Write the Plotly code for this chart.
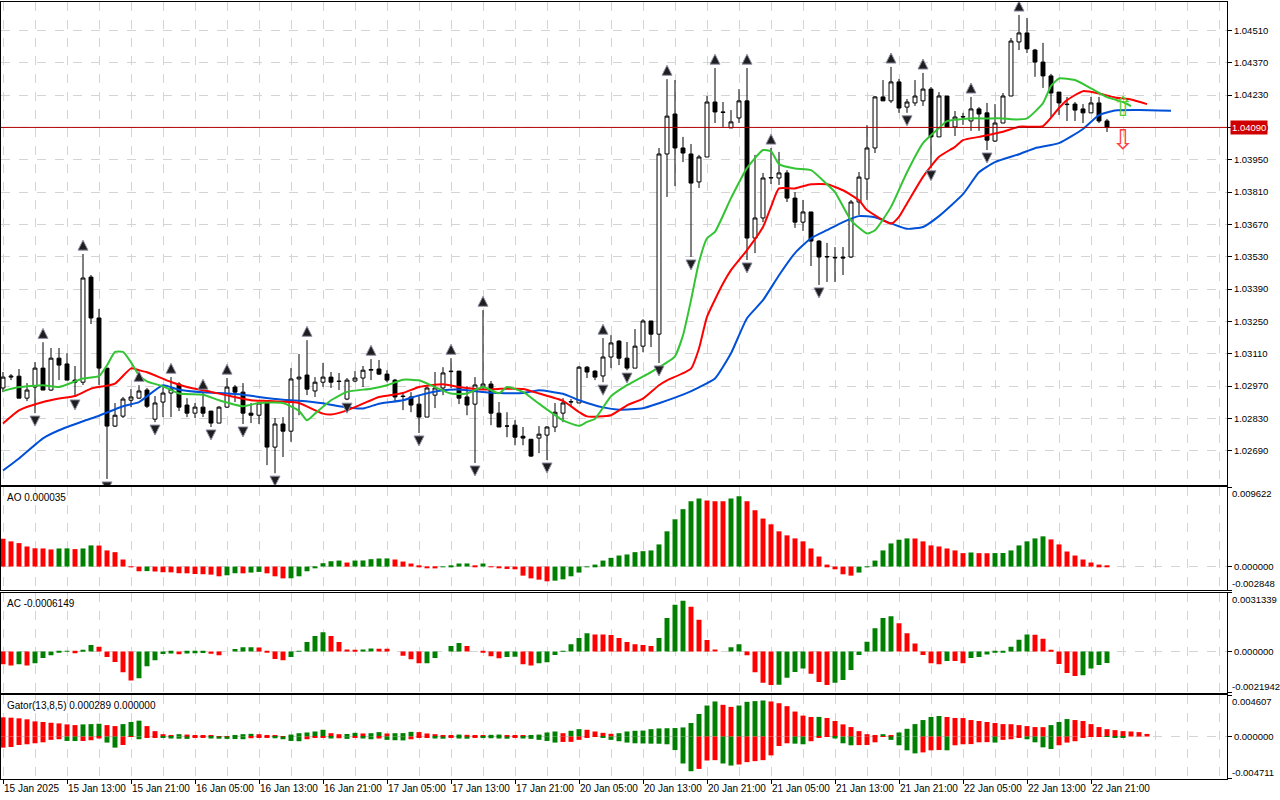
import plotly.graph_objects as go

# EURUSD H1, 15 Jan 2025 05:00 .. 22 Jan 2025 23:00 (bar index 0..138)
open_ = [1.02962, 1.03009, 1.03013, 1.02918, 1.02966, 1.03048, 1.02953, 1.03091, 1.03066, 1.02996,
         1.02987, 1.03442, 1.03265, 1.03048, 1.02797, 1.02840, 1.02909, 1.02918, 1.02953, 1.02827,
         1.02901, 1.02940, 1.02979, 1.02888, 1.02853, 1.02879, 1.02862, 1.02810, 1.02879, 1.02966,
         1.02944, 1.02853, 1.02844, 1.02897, 1.02706, 1.02806, 1.02775, 1.03001, 1.03018, 1.02949,
         1.02987, 1.03009, 1.02992, 1.02914, 1.02992, 1.03005, 1.03039, 1.03044, 1.03022, 1.02996,
         1.02927, 1.02923, 1.02892, 1.02836, 1.02931, 1.02962, 1.03035, 1.03035, 1.02923, 1.02892,
         1.02966, 1.02979, 1.02853, 1.02797, 1.02801, 1.02753, 1.02740, 1.02745, 1.02758, 1.02793,
         1.02853, 1.02901, 1.02897, 1.03052, 1.03035, 1.03014, 1.03096, 1.03165, 1.03091, 1.03048,
         1.03143, 1.03252, 1.03195, 1.03975, 1.04148, 1.04001, 1.03975, 1.03854, 1.03962, 1.04200,
         1.04157, 1.04088, 1.04131, 1.04205, 1.03611, 1.03698, 1.03871, 1.03871, 1.03893, 1.03784,
         1.03680, 1.03724, 1.03598, 1.03529, 1.03525, 1.03529, 1.03529, 1.03767, 1.03867, 1.04001,
         1.04222, 1.04205, 1.04287, 1.04178, 1.04196, 1.04205, 1.04256, 1.04049, 1.04226, 1.04092,
         1.04135, 1.04118, 1.04170, 1.04153, 1.04031, 1.04109, 1.04226, 1.04460, 1.04499, 1.04425,
         1.04373, 1.04313, 1.04243, 1.04191, 1.04191, 1.04170, 1.04153, 1.04196, 1.04118]
high = [1.03031, 1.03022, 1.03044, 1.02983, 1.03074, 1.03160, 1.03135, 1.03135, 1.03113, 1.03057,
        1.03542, 1.03451, 1.03304, 1.03048, 1.02897, 1.02923, 1.02957, 1.02974, 1.02962, 1.02927,
        1.02966, 1.03009, 1.02987, 1.02918, 1.02897, 1.02940, 1.02862, 1.02883, 1.03005, 1.02975,
        1.02983, 1.02897, 1.02901, 1.02897, 1.02832, 1.02836, 1.03048, 1.03109, 1.03169, 1.03009,
        1.03070, 1.03031, 1.03027, 1.03005, 1.03035, 1.03057, 1.03087, 1.03083, 1.03039, 1.03001,
        1.02944, 1.02944, 1.02931, 1.02970, 1.03031, 1.03052, 1.03091, 1.03035, 1.02970, 1.03009,
        1.03299, 1.02992, 1.02901, 1.02857, 1.02823, 1.02793, 1.02740, 1.02797, 1.02797, 1.02897,
        1.02918, 1.02914, 1.03057, 1.03057, 1.03039, 1.03178, 1.03191, 1.03169, 1.03161, 1.03217,
        1.03260, 1.03252, 1.04001, 1.04299, 1.04295, 1.04049, 1.04018, 1.03971, 1.04226, 1.04347,
        1.04200, 1.04165, 1.04256, 1.04347, 1.03971, 1.03893, 1.04001, 1.03984, 1.03905, 1.03810,
        1.03776, 1.03724, 1.03602, 1.03590, 1.03572, 1.03572, 1.03776, 1.03897, 1.04100, 1.04226,
        1.04295, 1.04352, 1.04300, 1.04213, 1.04295, 1.04326, 1.04265, 1.04243, 1.04226, 1.04161,
        1.04153, 1.04222, 1.04178, 1.04196, 1.04191, 1.04239, 1.04477, 1.04577, 1.04564, 1.04430,
        1.04456, 1.04322, 1.04243, 1.04222, 1.04200, 1.04191, 1.04222, 1.04222, 1.04127]
low = [1.02944, 1.02996, 1.02918, 1.02905, 1.02853, 1.02953, 1.02949, 1.02996, 1.02996, 1.02923,
       1.02975, 1.03239, 1.02975, 1.02568, 1.02793, 1.02832, 1.02879, 1.02914, 1.02875, 1.02814,
       1.02836, 1.02836, 1.02862, 1.02836, 1.02832, 1.02836, 1.02793, 1.02810, 1.02875, 1.02901,
       1.02806, 1.02810, 1.02806, 1.02628, 1.02593, 1.02663, 1.02729, 1.02844, 1.02931, 1.02923,
       1.02966, 1.02962, 1.02953, 1.02909, 1.02987, 1.02966, 1.02996, 1.03018, 1.02987, 1.02901,
       1.02866, 1.02857, 1.02767, 1.02836, 1.02875, 1.02931, 1.02962, 1.02892, 1.02844, 1.02637,
       1.02953, 1.02801, 1.02793, 1.02749, 1.02714, 1.02714, 1.02663, 1.02680, 1.02650, 1.02771,
       1.02814, 1.02879, 1.02897, 1.03005, 1.02996, 1.02987, 1.03048, 1.03061, 1.03039, 1.03048,
       1.03117, 1.03139, 1.03070, 1.03789, 1.03836, 1.03940, 1.03529, 1.03828, 1.03962, 1.04109,
       1.04092, 1.04088, 1.04109, 1.03516, 1.03546, 1.03680, 1.03845, 1.03841, 1.03767, 1.03655,
       1.03642, 1.03490, 1.03408, 1.03421, 1.03421, 1.03451, 1.03525, 1.03711, 1.03776, 1.03979,
       1.04205, 1.04196, 1.04153, 1.04153, 1.04183, 1.04183, 1.03915, 1.04049, 1.04092, 1.04053,
       1.04101, 1.04075, 1.04075, 1.03992, 1.04027, 1.04109, 1.04226, 1.04425, 1.04412, 1.04309,
       1.04261, 1.04135, 1.04144, 1.04118, 1.04118, 1.04109, 1.04153, 1.04109, 1.04070]
close = [1.03009, 1.03013, 1.02918, 1.02953, 1.03048, 1.02953, 1.03091, 1.03061, 1.02996, 1.02987,
         1.03438, 1.03265, 1.03048, 1.02797, 1.02844, 1.02914, 1.02923, 1.02949, 1.02883, 1.02897,
         1.02940, 1.02957, 1.02879, 1.02853, 1.02879, 1.02853, 1.02810, 1.02879, 1.02966, 1.02944,
         1.02853, 1.02844, 1.02897, 1.02706, 1.02806, 1.02775, 1.03001, 1.03009, 1.02957, 1.02987,
         1.03009, 1.02987, 1.02990, 1.02996, 1.03005, 1.03039, 1.03042, 1.03022, 1.02996, 1.02923,
         1.02925, 1.02888, 1.02836, 1.02962, 1.02962, 1.03027, 1.03033, 1.02918, 1.02888, 1.02975,
         1.02979, 1.02853, 1.02793, 1.02797, 1.02749, 1.02745, 1.02667, 1.02762, 1.02793, 1.02857,
         1.02897, 1.02903, 1.03052, 1.03031, 1.03009, 1.03096, 1.03157, 1.03091, 1.03048, 1.03143,
         1.03252, 1.03195, 1.03975, 1.04139, 1.04001, 1.03979, 1.03849, 1.03962, 1.04200, 1.04157,
         1.04155, 1.04114, 1.04205, 1.03611, 1.03698, 1.03871, 1.03873, 1.03893, 1.03784, 1.03680,
         1.03724, 1.03598, 1.03529, 1.03531, 1.03527, 1.03525, 1.03767, 1.03875, 1.04001, 1.04222,
         1.04205, 1.04287, 1.04174, 1.04200, 1.04226, 1.04256, 1.04049, 1.04226, 1.04092, 1.04135,
         1.04137, 1.04170, 1.04148, 1.04035, 1.04109, 1.04226, 1.04464, 1.04499, 1.04430, 1.04373,
         1.04313, 1.04239, 1.04196, 1.04189, 1.04165, 1.04153, 1.04196, 1.04118, 1.04090]

# Alligator lines (already shifted forward: jaw 8, teeth 5, lips 3)
jaw_x = [0, 2, 5, 7, 10, 12, 15, 17, 20, 22, 25, 27, 30, 32, 35, 37, 40, 42, 45, 47,
         50, 52, 55, 57, 60, 62, 65, 67, 70, 72, 75, 77, 80, 82, 85, 87, 89, 91, 93, 95,
         97, 99, 101, 103, 105, 107, 109, 111, 113, 115, 117, 120, 122, 124, 127, 129, 132, 135, 137, 139,
         142, 146]
jaw = [1.02605, 1.02657, 1.02744, 1.02779, 1.02818, 1.02842, 1.02883, 1.02901, 1.02974, 1.02954,
       1.02943, 1.02940, 1.02933, 1.02923, 1.02911, 1.02907, 1.02896, 1.02883, 1.02873, 1.02894,
       1.02909, 1.02930, 1.02952, 1.02955, 1.02945, 1.02940, 1.02940, 1.02952, 1.02937, 1.02909,
       1.02878, 1.02868, 1.02874, 1.02896, 1.02933, 1.02965, 1.03003, 1.03112, 1.03264, 1.03342,
       1.03450, 1.03546, 1.03610, 1.03645, 1.03680, 1.03706, 1.03701, 1.03675, 1.03651, 1.03659,
       1.03706, 1.03801, 1.03896, 1.03940, 1.03974, 1.04000, 1.04022, 1.04083, 1.04143, 1.04163,
       1.04165, 1.04162]
teeth_x = [0, 2, 5, 7, 9, 11, 14, 16, 17, 18, 21, 23, 26, 28, 31, 33, 36, 37, 40, 41,
           43, 45, 47, 50, 52, 55, 57, 60, 62, 65, 67, 70, 72, 73, 76, 78, 80, 82, 83, 86,
           87, 88, 90, 91, 93, 95, 96, 97, 99, 101, 103, 105, 107, 108, 111, 112, 113, 115, 117, 119,
           120, 122, 125, 127, 130, 132, 133, 135, 137, 139, 141, 143]
teeth = [1.02808, 1.02865, 1.02901, 1.02916, 1.02927, 1.02959, 1.02981, 1.03047, 1.03039, 1.03030,
         1.02988, 1.02966, 1.02945, 1.02930, 1.02909, 1.02906, 1.02901, 1.02897, 1.02851, 1.02847,
         1.02865, 1.02894, 1.02923, 1.02940, 1.02966, 1.02978, 1.02966, 1.02955, 1.02958, 1.02958,
         1.02938, 1.02906, 1.02858, 1.02839, 1.02844, 1.02887, 1.02916, 1.02974, 1.02995, 1.03046,
         1.03133, 1.03270, 1.03414, 1.03472, 1.03559, 1.03659, 1.03746, 1.03826, 1.03826, 1.03844,
         1.03844, 1.03818, 1.03775, 1.03732, 1.03674, 1.03703, 1.03761, 1.03876, 1.03963, 1.04006,
         1.04035, 1.04049, 1.04071, 1.04093, 1.04096, 1.04174, 1.04208, 1.04247, 1.04237, 1.04220,
         1.04211, 1.04191]
lips_x = [0, 2, 5, 7, 10, 12, 13, 14, 15, 16, 17, 18, 20, 22, 25, 27, 30, 32, 35, 37,
          38, 39, 41, 43, 46, 48, 50, 52, 54, 56, 58, 60, 62, 63, 65, 67, 70, 72, 73, 74,
          76, 78, 81, 83, 84, 85, 86, 87, 88, 89, 91, 93, 95, 96, 97, 99, 101, 103, 104, 106,
          108, 109, 111, 113, 115, 117, 118, 121, 123, 125, 126, 128, 130, 131, 132, 134, 136, 138, 140, 141]
lips = [1.02949, 1.02966, 1.02974, 1.02966, 1.03003, 1.03013, 1.03060, 1.03118, 1.03118, 1.03073,
        1.03017, 1.02991, 1.02969, 1.02938, 1.02933, 1.02909, 1.02883, 1.02897, 1.02897, 1.02863,
        1.02822, 1.02851, 1.02909, 1.02945, 1.02959, 1.02974, 1.02998, 1.02995, 1.02966, 1.02938,
        1.02938, 1.02966, 1.02939, 1.02966, 1.02945, 1.02894, 1.02822, 1.02798, 1.02815, 1.02829,
        1.02926, 1.02974, 1.03031, 1.03073, 1.03099, 1.03190, 1.03342, 1.03507, 1.03610, 1.03638,
        1.03784, 1.03914, 1.03992, 1.03987, 1.03931, 1.03912, 1.03905, 1.03844, 1.03810, 1.03688,
        1.03631, 1.03645, 1.03746, 1.03896, 1.04022, 1.04087, 1.04117, 1.04129, 1.04129, 1.04129,
        1.04125, 1.04129, 1.04195, 1.04269, 1.04302, 1.04295, 1.04259, 1.04221, 1.04200, 1.04182]

# Bill Williams fractals (bar indices)
fractal_up = [5, 10, 17, 21, 25, 28, 38, 46, 56, 60, 75, 83, 89, 93, 96, 111, 115, 121, 127]
fractal_down = [4, 9, 13, 19, 26, 30, 34, 43, 52, 59, 68, 75, 78, 82, 86, 93, 102, 113, 116, 123]

# signal arrows at the right end
signal_bar = [140]
signal_buy = [1.04168]
signal_sell = [1.04026]

ao = [0.00338, 0.00306, 0.00285, 0.00244, 0.00222, 0.00220, 0.00208, 0.00220, 0.00221, 0.00212,
      0.00220, 0.00257, 0.00255, 0.00196, 0.00175, 0.00086, 0.00002, -0.00057, -0.00055, -0.00060,
      -0.00069, -0.00070, -0.00081, -0.00082, -0.00090, -0.00093, -0.00098, -0.00118, -0.00106, -0.00081,
      -0.00082, -0.00073, -0.00065, -0.00082, -0.00118, -0.00143, -0.00142, -0.00118, -0.00057, -0.00012,
      0.00041, 0.00065, 0.00073, 0.00049, 0.00073, 0.00074, 0.00090, 0.00098, 0.00099, 0.00086,
      0.00061, 0.00037, 0.00004, -0.00020, -0.00022, -0.00003, 0.00010, 0.00037, 0.00038, 0.00010,
      0.00037, -0.00003, -0.00016, -0.00029, -0.00033, -0.00110, -0.00143, -0.00159, -0.00179, -0.00171,
      -0.00155, -0.00118, -0.00073, 0.00001, 0.00024, 0.00073, 0.00106, 0.00134, 0.00147, 0.00175,
      0.00187, 0.00196, 0.00269, 0.00428, 0.00574, 0.00697, 0.00794, 0.00827, 0.00802, 0.00794,
      0.00793, 0.00827, 0.00855, 0.00794, 0.00684, 0.00583, 0.00513, 0.00428, 0.00379, 0.00342,
      0.00306, 0.00220, 0.00122, 0.00024, -0.00033, -0.00094, -0.00110, -0.00073, -0.00008, 0.00073,
      0.00196, 0.00281, 0.00326, 0.00342, 0.00341, 0.00306, 0.00257, 0.00244, 0.00220, 0.00196,
      0.00163, 0.00171, 0.00163, 0.00162, 0.00164, 0.00165, 0.00196, 0.00257, 0.00306, 0.00342,
      0.00367, 0.00330, 0.00269, 0.00183, 0.00134, 0.00086, 0.00049, 0.00024, 0.000035]
ac = [-0.00068, -0.00074, -0.00068, -0.00074, -0.00063, -0.00034, -0.00020, -0.00007, 0.00001, -0.00009,
      0.00009, 0.00034, 0.00025, -0.00029, -0.00056, -0.00111, -0.00154, -0.00142, -0.00079, -0.00047,
      -0.00013, -0.00010, -0.00014, -0.00010, -0.00009, -0.00008, -0.00012, -0.00020, 0.00000, 0.00013,
      0.00022, 0.00023, 0.00021, -0.00007, -0.00040, -0.00047, -0.00029, 0.00002, 0.00050, 0.00082,
      0.00102, 0.00082, 0.00050, 0.00011, 0.00005, 0.00011, 0.00016, 0.00015, 0.00014, 0.00000,
      -0.00023, -0.00041, -0.00063, -0.00062, -0.00034, 0.00000, 0.00029, 0.00045, 0.00029, 0.00000,
      -0.00001, -0.00025, -0.00036, -0.00029, -0.00028, -0.00068, -0.00074, -0.00063, -0.00057, -0.00018,
      0.00004, 0.00039, 0.00072, 0.00097, 0.00091, 0.00090, 0.00088, 0.00072, 0.00050, 0.00039,
      0.00034, 0.00029, 0.00072, 0.00179, 0.00249, 0.00271, 0.00239, 0.00169, 0.00061, 0.00011,
      0.00000, 0.00022, 0.00039, -0.00020, -0.00111, -0.00167, -0.00179, -0.00177, -0.00140, -0.00109,
      -0.00091, -0.00118, -0.00163, -0.00179, -0.00167, -0.00152, -0.00099, -0.00018, 0.00052, 0.00124,
      0.00178, 0.00188, 0.00151, 0.00097, 0.00043, -0.00018, -0.00063, -0.00068, -0.00050, -0.00051,
      -0.00063, -0.00034, -0.00029, -0.00016, -0.00005, -0.00003, 0.00025, 0.00063, 0.00090, 0.00089,
      0.00068, 0.00009, -0.00066, -0.00115, -0.00131, -0.00126, -0.00091, -0.00072, -0.0006149]
gator_up = [0.00213, 0.00209, 0.00202, 0.00191, 0.00168, 0.00161, 0.00153, 0.00146, 0.00135, 0.00127,
            0.00135, 0.00138, 0.00142, 0.00127, 0.00116, 0.00138, 0.00161, 0.00176, 0.00116, 0.00060,
            0.00026, 0.00015, 0.00026, 0.00022, 0.00015, 0.00013, 0.00011, 0.00004, 0.00002, 0.00015,
            0.00026, 0.00030, 0.00026, 0.00015, 0.00007, 0.00002, 0.00022, 0.00037, 0.00045, 0.00056,
            0.00075, 0.00037, 0.00026, 0.00028, 0.00041, 0.00034, 0.00037, 0.00049, 0.00034, 0.00037,
            0.00038, 0.00052, 0.00049, 0.00034, 0.00026, 0.00015, 0.00007, 0.00022, 0.00019, 0.00015,
            0.00014, 0.00019, 0.00022, 0.00015, 0.00011, 0.00007, 0.00008, 0.00022, 0.00045, 0.00056,
            0.00037, 0.00064, 0.00082, 0.00075, 0.00056, 0.00041, 0.00030, 0.00037, 0.00056, 0.00064,
            0.00066, 0.00082, 0.00090, 0.00092, 0.00094, 0.00101, 0.00150, 0.00250, 0.00344, 0.00389,
            0.00352, 0.00329, 0.00344, 0.00385, 0.00393, 0.00400, 0.00389, 0.00370, 0.00337, 0.00277,
            0.00232, 0.00217, 0.00218, 0.00206, 0.00172, 0.00135, 0.00105, 0.00060, 0.00026, 0.00015,
            0.00026, 0.00015, 0.00045, 0.00086, 0.00138, 0.00183, 0.00217, 0.00228, 0.00217, 0.00206,
            0.00205, 0.00183, 0.00172, 0.00161, 0.00150, 0.00138, 0.00137, 0.00127, 0.00116, 0.00105,
            0.00104, 0.00127, 0.00161, 0.00194, 0.00183, 0.00172, 0.00138, 0.00105, 0.00082, 0.00071,
            0.00060, 0.00056, 0.00049, 0.000289]
gator_down = [-0.00123, -0.00116, -0.00094, -0.00086, -0.00075, -0.00064, -0.00037, -0.00030, -0.00049, -0.00050,
              -0.00049, -0.00041, -0.00022, -0.00067, -0.00123, -0.00094, -0.00004, -0.00030, -0.00015, -0.00007,
              -0.00015, -0.00022, -0.00024, -0.00026, -0.00011, -0.00009, -0.00022, -0.00024, -0.00026, -0.00028,
              -0.00030, -0.00019, -0.00015, -0.00011, -0.00019, -0.00030, -0.00049, -0.00052, -0.00030, -0.00015,
              -0.00007, -0.00022, -0.00019, -0.00026, -0.00015, -0.00022, -0.00030, -0.00022, -0.00037, -0.00041,
              -0.00043, -0.00030, -0.00015, -0.00007, -0.00022, -0.00024, -0.00015, -0.00022, -0.00024, -0.00015,
              -0.00017, -0.00019, -0.00022, -0.00024, -0.00015, -0.00022, -0.00026, -0.00037, -0.00049, -0.00067,
              -0.00060, -0.00059, -0.00037, -0.00007, -0.00004, -0.00015, -0.00037, -0.00052, -0.00067, -0.00075,
              -0.00077, -0.00079, -0.00080, -0.00086, -0.00150, -0.00299, -0.00385, -0.00359, -0.00266, -0.00262,
              -0.00299, -0.00322, -0.00310, -0.00284, -0.00273, -0.00262, -0.00209, -0.00105, -0.00075, -0.00079,
              -0.00086, -0.00052, -0.00015, -0.00004, -0.00022, -0.00075, -0.00097, -0.00095, -0.00094, -0.00064,
              -0.00004, -0.00037, -0.00097, -0.00153, -0.00187, -0.00176, -0.00153, -0.00150, -0.00153, -0.00097,
              -0.00086, -0.00084, -0.00064, -0.00062, -0.00067, -0.00037, -0.00030, -0.00015, -0.00030, -0.00064,
              -0.00120, -0.00138, -0.00097, -0.00067, -0.00052, -0.00007, -0.00004, -0.00002, -0.00004, -0.00007,
              -0.00011, 0.0]

# axis scales as shown on the chart
price_range = [1.02542, 1.04633]
price_ticks = [1.02690, 1.02830, 1.02970, 1.03110, 1.03250, 1.03390, 1.03530,
               1.03670, 1.03810, 1.03950, 1.04090, 1.04230, 1.04370, 1.04510]
ao_range = [-0.002848, 0.009622]
ac_range = [-0.0021942, 0.0031339]
gator_range = [-0.004711, 0.004607]
label_bars = list(range(0, 137, 8))
time_labels = ["15 Jan 2025", "15 Jan 13:00", "15 Jan 21:00", "16 Jan 05:00", "16 Jan 13:00",
               "16 Jan 21:00", "17 Jan 05:00", "17 Jan 13:00", "17 Jan 21:00", "20 Jan 05:00",
               "20 Jan 13:00", "20 Jan 21:00", "21 Jan 05:00", "21 Jan 13:00", "21 Jan 21:00",
               "22 Jan 05:00", "22 Jan 13:00", "22 Jan 21:00"]

for name, arr in [("open", open_), ("high", high), ("low", low), ("close", close), ("ao", ao), ("ac", ac)]:
    assert len(arr) == 139, (name, len(arr))
assert len(gator_up) == 144 and len(gator_down) == 142
assert len(jaw_x) == len(jaw) and len(teeth_x) == len(teeth) and len(lips_x) == len(lips)

GREEN = "#008000"
RED = "#ff0000"
GRID = "#d4d4d4"
FONT = "Liberation Sans"
AXFONT = dict(family=FONT, size=9.5, color="black")


def up_down(vals, by_abs=False):
    cols = [RED]
    for a, b in zip(vals[:-1], vals[1:]):
        if by_abs:
            a, b = abs(a), abs(b)
        cols.append(GREEN if b > a else RED)
    return cols


bars = list(range(len(close)))
fig = go.Figure()

# alligator
fig.add_trace(go.Scatter(x=jaw_x, y=jaw, mode="lines",
                         line=dict(color="#0050d8", width=2, shape="spline", smoothing=0.5)))
fig.add_trace(go.Scatter(x=teeth_x, y=teeth, mode="lines",
                         line=dict(color="#ff0000", width=2, shape="spline", smoothing=0.5)))
fig.add_trace(go.Scatter(x=lips_x, y=lips, mode="lines",
                         line=dict(color="#33c433", width=2, shape="spline", smoothing=0.5)))

fig.add_trace(go.Candlestick(
    x=bars, open=open_, high=high, low=low, close=close,
    increasing=dict(line=dict(color="black", width=1), fillcolor="white"),
    decreasing=dict(line=dict(color="black", width=1), fillcolor="black"),
    whiskerwidth=0, hoverinfo="skip"))

# fractal arrows, a little above the high / below the low
fig.add_trace(go.Scatter(
    x=fractal_up, y=[high[i] + 0.00060 for i in fractal_up], mode="markers",
    marker=dict(symbol="arrow-up", size=10, color="#1e1e1e", line=dict(color="#9090a8", width=1))))
fig.add_trace(go.Scatter(
    x=fractal_down, y=[low[i] - 0.00056 for i in fractal_down], mode="markers",
    marker=dict(symbol="arrow-down", size=10, color="#1e1e1e", line=dict(color="#9090a8", width=1))))

# signal arrows
fig.add_trace(go.Scatter(x=signal_bar, y=signal_buy, mode="text", text=["⇧"],
                         textfont=dict(family="DejaVu Sans", size=27, color="#55cc33")))
fig.add_trace(go.Scatter(x=signal_bar, y=signal_sell, mode="text", text=["⇩"],
                         textfont=dict(family="DejaVu Sans", size=27, color="#ff4040")))

# AO / AC / Gator
fig.add_trace(go.Bar(x=bars, y=ao, marker=dict(color=up_down(ao), line=dict(width=0)),
                     width=0.62, xaxis="x2", yaxis="y2"))
fig.add_trace(go.Bar(x=bars, y=ac, marker=dict(color=up_down(ac), line=dict(width=0)),
                     width=0.62, xaxis="x3", yaxis="y3"))
fig.add_trace(go.Bar(x=list(range(len(gator_up))), y=gator_up,
                     marker=dict(color=up_down(gator_up), line=dict(width=0)),
                     width=0.62, xaxis="x4", yaxis="y4"))
fig.add_trace(go.Bar(x=list(range(len(gator_down))), y=gator_down,
                     marker=dict(color=up_down(gator_down, by_abs=True), line=dict(width=0)),
                     width=0.62, xaxis="x4", yaxis="y4"))

dom_main = [0.3784, 1.0]
dom_ao = [0.2432, 0.3754]
dom_ac = [0.1111, 0.2398]
dom_gator = [0.0, 0.1081]

xbase = dict(range=[-0.25, 153.0], showline=True, mirror=True, linecolor="black", linewidth=1,
             tickmode="array", tickvals=label_bars, showgrid=True, gridcolor=GRID, griddash="dash",
             minor=dict(tickmode="linear", tick0=0, dtick=4, showgrid=True, gridcolor=GRID, griddash="dash"),
             zeroline=False, fixedrange=True, automargin=False)
hidden = dict(xbase, showticklabels=False, ticks="")
ybase = dict(side="right", showline=True, mirror=True, linecolor="black", linewidth=1,
             ticks="outside", ticklen=4, tickcolor="black", zeroline=False, automargin=False,
             tickfont=AXFONT, fixedrange=True)


def sub_y(dom, rng):
    return dict(ybase, domain=dom, range=rng, tickvals=[rng[0], 0, rng[1]], ticktext=["", "0.000000", ""],
                showgrid=True, gridcolor=GRID, griddash="dash")


fig.update_layout(
    width=1280, height=800,
    margin=dict(l=1, r=53, t=2, b=21),
    paper_bgcolor="white", plot_bgcolor="white",
    showlegend=False, hovermode=False, barmode="overlay",
    font=dict(family=FONT, size=10, color="black"),
    xaxis=dict(hidden, anchor="y", domain=[0, 1], rangeslider=dict(visible=False)),
    xaxis2=dict(hidden, anchor="y2", matches="x"),
    xaxis3=dict(hidden, anchor="y3", matches="x"),
    xaxis4=dict(xbase, anchor="y4", matches="x", ticktext=time_labels, ticks="outside", ticklen=4,
                tickcolor="black", ticklabelposition="outside right", tickangle=0,
                tickfont=dict(family=FONT, size=10, color="black")),
    yaxis=dict(ybase, domain=dom_main, range=price_range, tickvals=price_ticks, tickformat=".5f",
               showgrid=True, gridcolor=GRID, griddash="dash"),
    yaxis2=sub_y(dom_ao, ao_range),
    yaxis3=sub_y(dom_ac, ac_range),
    yaxis4=sub_y(dom_gator, gator_range),
)

# current price line and label
fig.add_shape(type="line", xref="x domain", x0=0, x1=1, yref="y", y0=close[-1], y1=close[-1],
              line=dict(color="#b00000", width=1))
fig.add_annotation(xref="paper", x=1, xanchor="left", xshift=3, yref="y", y=close[-1],
                   text=f"{close[-1]:.5f}", showarrow=False, bgcolor="#d00000", borderpad=1,
                   font=dict(family=FONT, size=9.5, color="white"))

# indicator captions
captions = [
    (dom_ao, f"AO {ao[-1]:.6f}"),
    (dom_ac, f"AC {ac[-1]:.7f}"),
    (dom_gator, f"Gator(13,8,5) {gator_up[-1]:.6f} {abs(gator_down[-1]):.6f}"),
]
for dom, txt in captions:
    fig.add_annotation(xref="paper", x=0, xanchor="left", xshift=4, yref="paper", y=dom[1],
                       yanchor="top", yshift=-3, text=txt, showarrow=False,
                       font=dict(family=FONT, size=10, color="black"))

# scale extremes of each indicator window
for dom, rng, fmt in [(dom_ao, ao_range, "{:.6f}"), (dom_ac, ac_range, "{:.7f}"), (dom_gator, gator_range, "{:.6f}")]:
    fig.add_annotation(xref="paper", x=1, xanchor="left", xshift=3, yref="paper", y=dom[1],
                       yanchor="top", yshift=1, text=fmt.format(rng[1]), showarrow=False, font=AXFONT)
    fig.add_annotation(xref="paper", x=1, xanchor="left", xshift=3, yref="paper", y=dom[0],
                       yanchor="bottom", yshift=-1, text=fmt.format(rng[0]), showarrow=False, font=AXFONT)

# the page body has a default 8px margin; drop it so the 1280x800 figure fills the window
fig.write_html("out.html", config={"displayModeBar": False},
               post_script="document.body.style.margin='0';")
